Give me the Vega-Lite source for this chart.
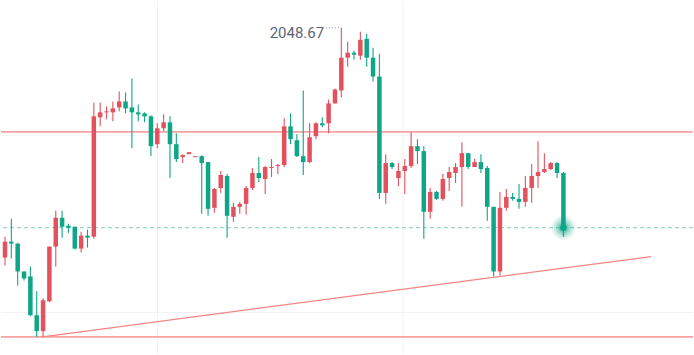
{
  "$schema": "https://vega.github.io/schema/vega-lite/v6.json",
  "width": 694,
  "height": 355,
  "autosize": {"type": "fit", "contains": "padding"},
  "padding": 0,
  "background": "#ffffff",
  "config": {"view": {"stroke": null}},
  "datasets": {
    "candles": [
      {"i":1,"o":1990.92,"c":1994.92,"h":1996.17,"l":1988.92},
      {"i":2,"o":1994.92,"c":1994.42,"h":2000.67,"l":1990.67},
      {"i":3,"o":1994.42,"c":1987.42,"h":1994.67,"l":1983.92},
      {"i":4,"o":1987.42,"c":1985.67,"h":1987.42,"l":1985.17},
      {"i":5,"o":1986.17,"c":1976.42,"h":1988.67,"l":1976.17},
      {"i":6,"o":1976.42,"c":1972.42,"h":1982.42,"l":1970.92},
      {"i":7,"o":1972.42,"c":1980.17,"h":1980.67,"l":1971.17},
      {"i":8,"o":1979.92,"c":1993.67,"h":1993.67,"l":1979.67},
      {"i":9,"o":1993.67,"c":2000.92,"h":2002.67,"l":1988.67},
      {"i":10,"o":2000.92,"c":1998.67,"h":2002.67,"l":1995.92},
      {"i":11,"o":1998.92,"c":1998.42,"h":1999.42,"l":1997.17},
      {"i":12,"o":1998.67,"c":1993.17,"h":1998.67,"l":1992.92},
      {"i":13,"o":1993.17,"c":1996.42,"h":1997.42,"l":1992.17},
      {"i":14,"o":1996.42,"c":1995.92,"h":1997.92,"l":1993.42},
      {"i":15,"o":1996.17,"c":2026.42,"h":2029.92,"l":1995.67},
      {"i":16,"o":2026.17,"c":2027.42,"h":2029.92,"l":2023.92},
      {"i":17,"o":2027.42,"c":2027.67,"h":2028.92,"l":2025.67},
      {"i":18,"o":2027.42,"c":2028.42,"h":2030.17,"l":2025.17},
      {"i":19,"o":2028.67,"c":2030.17,"h":2032.67,"l":2027.67},
      {"i":20,"o":2030.17,"c":2028.42,"h":2032.42,"l":2027.17},
      {"i":21,"o":2028.67,"c":2027.42,"h":2035.92,"l":2018.42},
      {"i":22,"o":2027.42,"c":2026.92,"h":2029.42,"l":2025.17},
      {"i":23,"o":2027.17,"c":2026.42,"h":2027.42,"l":2024.92},
      {"i":24,"o":2026.42,"c":2018.92,"h":2026.67,"l":2016.42},
      {"i":25,"o":2019.42,"c":2023.42,"h":2024.67,"l":2018.42},
      {"i":26,"o":2023.42,"c":2024.92,"h":2026.92,"l":2022.67},
      {"i":27,"o":2024.92,"c":2019.42,"h":2026.42,"l":2010.92},
      {"i":28,"o":2019.42,"c":2015.67,"h":2022.17,"l":2014.92},
      {"i":29,"o":2016.17,"c":2016.67,"h":2016.92,"l":2014.67},
      {"i":30,"o":2016.92,"c":2017.42,"h":2017.42,"l":2016.92},
      {"i":31,"o":2016.17,"c":2016.42,"h":2016.42,"l":2016.17},
      {"i":32,"o":2016.42,"c":2014.67,"h":2016.67,"l":2001.92},
      {"i":33,"o":2014.92,"c":2003.17,"h":2014.92,"l":2001.42},
      {"i":34,"o":2003.42,"c":2008.17,"h":2008.42,"l":2002.17},
      {"i":35,"o":2008.42,"c":2011.67,"h":2012.67,"l":2007.17},
      {"i":36,"o":2011.42,"c":2001.42,"h":2011.92,"l":1995.92},
      {"i":37,"o":2001.17,"c":2003.67,"h":2004.67,"l":1999.92},
      {"i":38,"o":2003.67,"c":2004.42,"h":2004.92,"l":2001.92},
      {"i":39,"o":2004.42,"c":2008.42,"h":2008.92,"l":2001.67},
      {"i":40,"o":2008.42,"c":2012.17,"h":2013.42,"l":2007.92},
      {"i":41,"o":2012.17,"c":2010.92,"h":2016.17,"l":2009.92},
      {"i":42,"o":2010.67,"c":2013.67,"h":2013.92,"l":2006.92},
      {"i":43,"o":2013.42,"c":2013.67,"h":2015.67,"l":2011.17},
      {"i":44,"o":2013.92,"c":2014.17,"h":2014.42,"l":2011.92},
      {"i":45,"o":2014.17,"c":2023.92,"h":2025.92,"l":2013.67},
      {"i":46,"o":2023.92,"c":2020.67,"h":2027.17,"l":2019.42},
      {"i":47,"o":2020.42,"c":2016.42,"h":2021.92,"l":2016.17},
      {"i":48,"o":2016.42,"c":2014.92,"h":2032.92,"l":2011.67},
      {"i":49,"o":2014.92,"c":2021.17,"h":2024.67,"l":2014.67},
      {"i":50,"o":2021.42,"c":2024.67,"h":2024.92,"l":2020.67},
      {"i":51,"o":2024.67,"c":2024.17,"h":2026.17,"l":2023.67},
      {"i":52,"o":2024.67,"c":2029.67,"h":2030.67,"l":2022.17},
      {"i":53,"o":2029.67,"c":2033.17,"h":2033.42,"l":2029.67},
      {"i":54,"o":2032.92,"c":2041.17,"h":2048.67,"l":2031.17},
      {"i":55,"o":2041.17,"c":2042.42,"h":2045.17,"l":2038.92},
      {"i":56,"o":2042.42,"c":2041.92,"h":2042.92,"l":2040.67},
      {"i":57,"o":2041.67,"c":2045.67,"h":2047.67,"l":2040.67},
      {"i":58,"o":2045.92,"c":2041.17,"h":2047.17,"l":2038.92},
      {"i":59,"o":2041.17,"c":2036.42,"h":2043.67,"l":2035.17},
      {"i":60,"o":2036.42,"c":2007.17,"h":2042.17,"l":2005.67},
      {"i":61,"o":2007.17,"c":2014.67,"h":2016.92,"l":2004.42},
      {"i":62,"o":2014.67,"c":2013.67,"h":2014.92,"l":2013.17},
      {"i":63,"o":2010.92,"c":2012.67,"h":2014.67,"l":2008.92},
      {"i":64,"o":2012.67,"c":2013.92,"h":2015.67,"l":2006.92},
      {"i":65,"o":2013.92,"c":2018.92,"h":2022.42,"l":2013.42},
      {"i":66,"o":2018.92,"c":2017.67,"h":2020.67,"l":2014.42},
      {"i":67,"o":2017.67,"c":2002.42,"h":2018.92,"l":1995.67},
      {"i":68,"o":2002.42,"c":2007.42,"h":2008.42,"l":2000.67},
      {"i":69,"o":2007.42,"c":2005.67,"h":2007.67,"l":2005.42},
      {"i":70,"o":2005.67,"c":2010.67,"h":2011.92,"l":2005.17},
      {"i":71,"o":2010.92,"c":2012.42,"h":2013.67,"l":2007.67},
      {"i":72,"o":2012.17,"c":2013.67,"h":2014.67,"l":2009.67},
      {"i":73,"o":2013.67,"c":2017.17,"h":2019.92,"l":2003.67},
      {"i":74,"o":2017.17,"c":2013.67,"h":2017.17,"l":2013.17},
      {"i":75,"o":2013.67,"c":2014.92,"h":2015.67,"l":2013.67},
      {"i":76,"o":2014.92,"c":2013.17,"h":2016.92,"l":2012.17},
      {"i":77,"o":2013.42,"c":2003.67,"h":2013.92,"l":2000.17},
      {"i":78,"o":2003.67,"c":1987.42,"h":2003.67,"l":1986.17},
      {"i":79,"o":1987.42,"c":2003.42,"h":2007.42,"l":1986.42},
      {"i":80,"o":2003.42,"c":2006.17,"h":2008.17,"l":2002.67},
      {"i":81,"o":2006.17,"c":2005.67,"h":2007.17,"l":2005.17},
      {"i":82,"o":2005.67,"c":2004.92,"h":2009.42,"l":2003.17},
      {"i":83,"o":2004.92,"c":2008.42,"h":2011.42,"l":2003.67},
      {"i":84,"o":2008.42,"c":2011.42,"h":2014.42,"l":2004.67},
      {"i":85,"o":2011.42,"c":2012.42,"h":2020.17,"l":2008.42},
      {"i":86,"o":2012.42,"c":2013.17,"h":2017.17,"l":2012.17},
      {"i":87,"o":2013.17,"c":2014.67,"h":2014.92,"l":2012.92},
      {"i":88,"o":2014.67,"c":2012.17,"h":2014.92,"l":2010.92},
      {"i":89,"o":2012.17,"c":1998.42,"h":2012.42,"l":1996.17}
    ]
  },
  "layer": [
    {
      "data": {"values": [{"i": 25.04}, {"i": 63.7}]},
      "mark": {"type": "rule", "color": "#f2f2f4", "strokeWidth": 1},
      "encoding": {
        "x": {"field": "i", "type": "quantitative", "axis": null, "scale": {"domain": [0.3715, 109.42], "nice": false, "zero": false}}
      }
    },
    {
      "data": {"values": [{"p": 2021.67}, {"p": 1977.1}]},
      "mark": {"type": "rule", "color": "#f2f2f4", "strokeWidth": 1},
      "encoding": {
        "y": {"field": "p", "type": "quantitative", "axis": null, "scale": {"domain": [1966.67, 2055.42], "nice": false, "zero": false}}
      }
    },
    {
      "data": {"values": [{"p": 2022.5}, {"p": 1971.0}]},
      "mark": {"type": "rule", "color": "#f7a3a3", "strokeWidth": 1.8},
      "encoding": {
        "y": {"field": "p", "type": "quantitative", "axis": null, "scale": {"domain": [1966.67, 2055.42], "nice": false, "zero": false}}
      }
    },
    {
      "data": {"values": [{"p": 1998.42}]},
      "mark": {"type": "rule", "color": "#7fd0bd", "strokeWidth": 1.3, "strokeDash": [4, 3], "opacity": 0.8},
      "encoding": {
        "y": {"field": "p", "type": "quantitative", "axis": null, "scale": {"domain": [1966.67, 2055.42], "nice": false, "zero": false}}
      }
    },
    {
      "data": {"values": [{"i": 6.657, "p": 1970.92}, {"i": 102.82, "p": 1991.17}]},
      "mark": {"type": "line", "color": "#f58585", "strokeWidth": 1.2},
      "encoding": {
        "x": {"field": "i", "type": "quantitative", "axis": null, "scale": {"domain": [0.3715, 109.42], "nice": false, "zero": false}},
        "y": {"field": "p", "type": "quantitative", "axis": null, "scale": {"domain": [1966.67, 2055.42], "nice": false, "zero": false}}
      }
    },
    {
      "data": {"name": "candles"},
      "mark": {"type": "rule", "strokeWidth": 1.1},
      "encoding": {
        "x": {"field": "i", "type": "quantitative", "axis": null, "scale": {"domain": [0.3715, 109.42], "nice": false, "zero": false}},
        "y": {"field": "l", "type": "quantitative", "axis": null, "scale": {"domain": [1966.67, 2055.42], "nice": false, "zero": false}},
        "y2": {"field": "h"},
        "color": {"condition": {"test": "datum.c >= datum.o", "value": "#e2515d"}, "value": "#0fa688"}
      }
    },
    {
      "data": {"name": "candles"},
      "mark": {"type": "rule", "strokeWidth": 4.5, "strokeCap": "butt"},
      "encoding": {
        "x": {"field": "i", "type": "quantitative", "axis": null, "scale": {"domain": [0.3715, 109.42], "nice": false, "zero": false}},
        "y": {"field": "o", "type": "quantitative", "axis": null, "scale": {"domain": [1966.67, 2055.42], "nice": false, "zero": false}},
        "y2": {"field": "c"},
        "color": {"condition": {"test": "datum.c >= datum.o", "value": "#e2515d"}, "value": "#0fa688"}
      }
    },
    {
      "data": {"values": [{"i": 89, "p": 1998.42, "s": 560, "op": 0.1}, {"i": 89, "p": 1998.42, "s": 380, "op": 0.14}, {"i": 89, "p": 1998.42, "s": 220, "op": 0.2}, {"i": 89, "p": 1998.42, "s": 110, "op": 0.3}, {"i": 89, "p": 1998.42, "s": 45, "op": 1}]},
      "mark": {"type": "circle", "color": "#0fa688", "stroke": null},
      "encoding": {
        "x": {"field": "i", "type": "quantitative", "axis": null, "scale": {"domain": [0.3715, 109.42], "nice": false, "zero": false}},
        "y": {"field": "p", "type": "quantitative", "axis": null, "scale": {"domain": [1966.67, 2055.42], "nice": false, "zero": false}},
        "size": {"field": "s", "type": "quantitative", "scale": null, "legend": null},
        "opacity": {"field": "op", "type": "quantitative", "scale": null, "legend": null}
      }
    },
    {
      "data": {"values": [{"i": 51.6, "i2": 53.9, "p": 2048.67}]},
      "mark": {"type": "rule", "color": "#8a8d96", "strokeWidth": 1, "strokeDash": [1, 2]},
      "encoding": {
        "x": {"field": "i", "type": "quantitative", "axis": null, "scale": {"domain": [0.3715, 109.42], "nice": false, "zero": false}},
        "x2": {"field": "i2"},
        "y": {"field": "p", "type": "quantitative", "axis": null, "scale": {"domain": [1966.67, 2055.42], "nice": false, "zero": false}}
      }
    },
    {
      "data": {"values": [{"i": 51.3, "p": 2047.5, "t": "2048.67"}]},
      "mark": {"type": "text", "align": "right", "baseline": "middle", "fontSize": 15, "font": "Roboto", "color": "#626571"},
      "encoding": {
        "x": {"field": "i", "type": "quantitative", "axis": null, "scale": {"domain": [0.3715, 109.42], "nice": false, "zero": false}},
        "y": {"field": "p", "type": "quantitative", "axis": null, "scale": {"domain": [1966.67, 2055.42], "nice": false, "zero": false}},
        "text": {"field": "t"}
      }
    }
  ]
}
